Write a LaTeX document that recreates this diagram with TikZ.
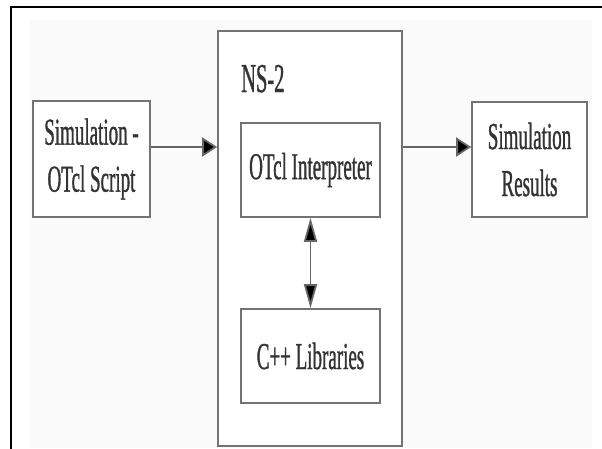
\documentclass[tikz,border=0pt]{standalone}
\usepackage{fontspec}
\setmainfont[FakeStretch=0.5,FakeBold=0.8]{Liberation Serif}
\usetikzlibrary{arrows.meta}
\tikzset{
  boxnode/.style={draw=black!55, line width=1.6pt, fill=white, inner sep=0pt, align=center,
    font=\fontsize{38}{47}\selectfont, text=black!80},
  arr/.style={draw=black!60, line width=1.8pt, -{Triangle[length=15pt,width=19pt,fill=black]}},
  darr/.style={draw=black!60, line width=1.8pt, {Triangle[length=24pt,width=13pt,fill=black]}-{Triangle[length=24pt,width=13pt,fill=black]}},
  frameline/.style={draw=black, line width=2.6pt}
}
\begin{document}
\begin{tikzpicture}[x=1pt,y=-1pt]
\useasboundingbox (0,0) rectangle (602,448);
\fill[black!2] (30,20) rectangle (592,448);
\draw[frameline] (11,449) -- (11,7) -- (603,7);
\node[boxnode, minimum width=117pt, minimum height=116pt] (sim) at (91.5,159) {Simulation -\\OTcl Script};
\node[boxnode, minimum width=184pt, minimum height=415pt] (ns) at (310,238.5) {};
\node[anchor=base west, inner sep=0pt, font=\fontsize{41}{47}\selectfont, text=black!80] (nslabel) at (241,92) {NS-2};
\node[boxnode, minimum width=139pt, minimum height=94pt] (otcl) at (310.5,170) {OTcl Interpreter};
\node[boxnode, minimum width=139pt, minimum height=94pt] (cpp) at (310.5,356) {C++ Libraries};
\node[boxnode, minimum width=115pt, minimum height=115pt] (res) at (529.5,159.5) {Simulation\\Results};
\coordinate (la) at ([yshift=12pt]sim.east);
\draw[arr] (la) -- (la -| ns.west);
\coordinate (ra) at (ns.east |- la);
\draw[arr] (ra) -- (ra -| res.west);
\draw[darr] (otcl.south) -- (cpp.north);
\end{tikzpicture}
\end{document}
